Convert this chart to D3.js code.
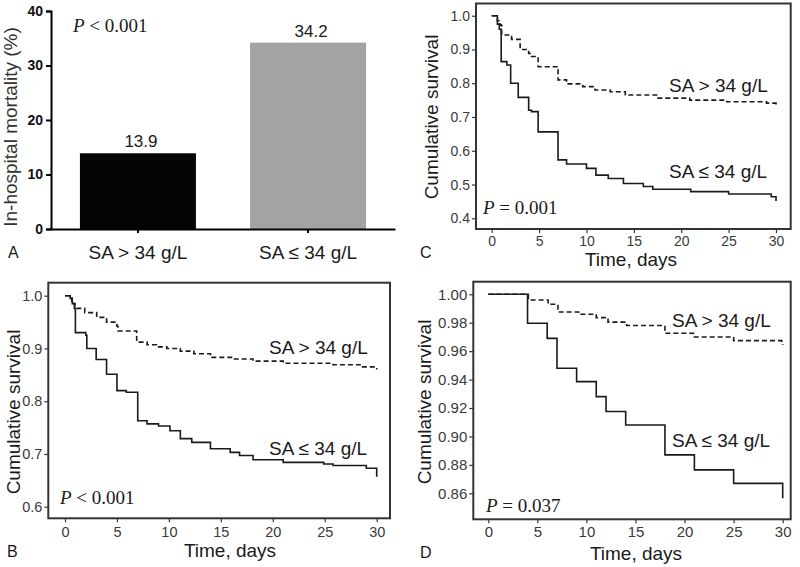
<!DOCTYPE html>
<html>
<head>
<meta charset="utf-8">
<script src="https://cdn.jsdelivr.net/npm/d3@7"></script>
<style>
  body { margin: 0; background: #fff; }
  svg { display: block; font-family: "Liberation Sans", Arial, sans-serif; }
</style>
</head>
<body>
<div id="chart"></div>
<script>
// Panel A: in-hospital mortality by serum albumin group
const groups = ["SA > 34 g/L", "SA ≤ 34 g/L"];
const mortality = [13.9, 34.2];
const mortalityTicks = [0, 10, 20, 30, 40];

// Kaplan-Meier curves (time in days, cumulative survival)
const dayTicks = [0, 5, 10, 15, 20, 25, 30];

// Panel C
const cHighTime = [0, 0.6, 0.9, 1.05, 2.1, 3.0, 3.9, 4.2, 4.9, 7.0, 7.9, 9.6, 10.9, 12.5, 14.1, 17.4, 20.9, 24.8, 29.0, 30];
const cHighSurv = [1.0, 0.985, 0.972, 0.943, 0.93, 0.90, 0.888, 0.879, 0.849, 0.81, 0.798, 0.79, 0.78, 0.775, 0.765, 0.756, 0.75, 0.745, 0.741, 0.733];
const cLowTime = [0, 0.6, 0.8, 1.0, 1.6, 2.0, 2.8, 3.9, 4.2, 4.9, 7.0, 7.9, 10.0, 11.0, 12.3, 13.9, 16.0, 17.0, 21.0, 25.0, 29.5, 30];
const cLowSurv = [1.0, 0.975, 0.96, 0.864, 0.854, 0.80, 0.758, 0.72, 0.716, 0.656, 0.573, 0.561, 0.548, 0.528, 0.518, 0.503, 0.494, 0.486, 0.479, 0.472, 0.464, 0.451];
const cTicks = [0.4, 0.5, 0.6, 0.7, 0.8, 0.9, 1.0];

// Panel B
const bHighTime = [0, 0.5, 0.65, 0.96, 1.9, 3.05, 4.0, 5.0, 5.1, 6.9, 7.9, 8.8, 9.8, 11.1, 12.4, 14.0, 16.2, 18.1, 21.0, 25.8, 28.4, 30];
const bHighSurv = [1.0, 0.995, 0.985, 0.976, 0.968, 0.959, 0.95, 0.942, 0.933, 0.912, 0.907, 0.903, 0.90, 0.895, 0.89, 0.883, 0.88, 0.876, 0.872, 0.869, 0.865, 0.86];
const bLowTime = [0, 0.5, 0.7, 0.9, 1.0, 2.0, 2.1, 3.0, 4.0, 5.0, 5.9, 7.0, 7.9, 9.0, 10.1, 11.1, 12.2, 14.0, 15.9, 16.8, 18.1, 21.0, 24.9, 25.8, 29.0, 30];
const bLowSurv = [1.0, 0.995, 0.985, 0.976, 0.93, 0.925, 0.90, 0.879, 0.851, 0.82, 0.817, 0.763, 0.757, 0.753, 0.744, 0.729, 0.722, 0.71, 0.703, 0.697, 0.689, 0.684, 0.681, 0.678, 0.673, 0.657];
const bTicks = [0.6, 0.7, 0.8, 0.9, 1.0];

// Panel D
const dHighTime = [0, 4.08, 6.1, 7.1, 9.2, 11.0, 12.2, 14.1, 18.0, 20.9, 25.0, 29.9, 30];
const dHighSurv = [1.0, 0.996, 0.993, 0.9876, 0.986, 0.9836, 0.9804, 0.978, 0.9726, 0.970, 0.9674, 0.9654, 0.9645];
const dLowTime = [0, 4, 6, 7, 9, 11, 12, 14, 18, 21, 25, 30];
const dLowSurv = [1.0, 0.9796, 0.969, 0.948, 0.9386, 0.928, 0.9175, 0.908, 0.887, 0.8765, 0.867, 0.8565];
const dTicks = [0.86, 0.88, 0.90, 0.92, 0.94, 0.96, 0.98, 1.00];

const width = 800, height = 567;
const ink = "#1a1a1a";

const svg = d3.select("#chart")
  .append("svg")
  .attr("width", width)
  .attr("height", height);

// P value with italic P in a serif face
function pValue(g, x, y, rest) {
  const t = g.append("text")
    .attr("x", x).attr("y", y)
    .attr("font-family", "'Liberation Serif', 'Times New Roman', serif")
    .attr("font-size", 19)
    .attr("fill", ink);
  t.append("tspan").attr("font-style", "italic").text("P");
  t.append("tspan").text(" " + rest);
}

// ---------- Panel A: bar chart ----------
function drawBars() {
  const g = svg.append("g");
  const x = d3.scaleBand()
    .domain(groups)
    .range([51, 395])
    .paddingInner(0.318)
    .paddingOuter(0.17);
  const y = d3.scaleLinear().domain([0, 40]).range([229, 11]);

  g.selectAll("rect.bar")
    .data(groups)
    .enter()
    .append("rect")
    .attr("class", "bar")
    .attr("x", d => x(d))
    .attr("width", x.bandwidth())
    .attr("y", (d, i) => y(mortality[i]))
    .attr("height", (d, i) => y(0) - y(mortality[i]))
    .attr("fill", (d, i) => i === 0 ? "#050505" : "#a3a3a3");

  g.selectAll("text.val")
    .data(groups)
    .enter()
    .append("text")
    .attr("class", "val")
    .attr("x", d => x(d) + x.bandwidth() / 2 + 3)
    .attr("y", (d, i) => y(mortality[i]) - 6)
    .attr("text-anchor", "middle")
    .attr("font-size", 17)
    .attr("fill", ink)
    .text((d, i) => mortality[i].toFixed(1));

  const yAxis = g.append("g")
    .attr("transform", "translate(51,0)")
    .call(d3.axisLeft(y).tickValues(mortalityTicks).tickSize(5).tickPadding(3));
  yAxis.selectAll("text").attr("font-size", 14).attr("font-weight", "bold").attr("fill", "#111");
  yAxis.selectAll("line, path").attr("stroke", "#000").attr("stroke-width", 2);

  const xAxis = g.append("g")
    .attr("transform", "translate(0,229)")
    .call(d3.axisBottom(x).tickSize(4).tickPadding(13).tickSizeOuter(0));
  xAxis.selectAll("text").attr("font-size", 19).attr("fill", ink);
  xAxis.selectAll("line, path").attr("stroke", "#000").attr("stroke-width", 2);

  g.append("text")
    .attr("transform", "translate(17,127) rotate(-90)")
    .attr("text-anchor", "middle")
    .attr("font-size", 19)
    .attr("fill", "#333")
    .text("In-hospital mortality (%)");

  g.append("text").attr("x", 8).attr("y", 258).attr("font-size", 16).attr("fill", ink).text("A");
  pValue(g, 73, 32, "< 0.001");
}

// ---------- Kaplan-Meier panels ----------
function drawKM(cfg) {
  const g = svg.append("g");
  const x = d3.scaleLinear().domain([0, 30]).range(cfg.xr);
  const y = d3.scaleLinear().domain(cfg.yd).range(cfg.yr);
  const [bx0, by0, bx1, by1] = cfg.box;

  const xAxis = g.append("g")
    .attr("transform", `translate(0,${by1})`)
    .call(d3.axisBottom(x).tickValues(dayTicks).tickSize(4).tickPadding(cfg.xPad));
  xAxis.select(".domain").remove();
  xAxis.selectAll("text").attr("font-size", cfg.tickFont).attr("fill", "#3a3a3a");
  xAxis.selectAll("line").attr("stroke", "#333").attr("stroke-width", 1.2);

  const yAxis = g.append("g")
    .attr("transform", `translate(${bx0},0)`)
    .call(d3.axisLeft(y).tickValues(cfg.yTicks).tickFormat(d3.format(cfg.fmt)).tickSize(4).tickPadding(2));
  yAxis.select(".domain").remove();
  yAxis.selectAll("text").attr("font-size", cfg.tickFont).attr("fill", "#3a3a3a");
  yAxis.selectAll("line").attr("stroke", "#333").attr("stroke-width", 1.2);

  const line = d3.line()
    .x(d => x(d[0]))
    .y(d => y(d[1]))
    .curve(d3.curveStepAfter);

  g.append("path")
    .datum(d3.zip(cfg.highTime, cfg.highSurv))
    .attr("d", line)
    .attr("fill", "none")
    .attr("stroke", ink)
    .attr("stroke-width", 1.6)
    .attr("stroke-dasharray", "5,3");

  g.append("path")
    .datum(d3.zip(cfg.lowTime, cfg.lowSurv))
    .attr("d", line)
    .attr("fill", "none")
    .attr("stroke", ink)
    .attr("stroke-width", 1.6);

  g.append("rect")
    .attr("x", bx0).attr("y", by0)
    .attr("width", bx1 - bx0).attr("height", by1 - by0)
    .attr("fill", "none")
    .attr("stroke", "#333")
    .attr("stroke-width", 2);

  g.append("text").attr("x", cfg.labelX).attr("y", cfg.highY).attr("font-size", 19).attr("fill", ink).text(groups[0]);
  g.append("text").attr("x", cfg.labelX).attr("y", cfg.lowY).attr("font-size", 19).attr("fill", ink).text(groups[1]);

  g.append("text")
    .attr("x", cfg.timeX).attr("y", cfg.timeY)
    .attr("text-anchor", "middle")
    .attr("font-size", 19)
    .attr("fill", ink)
    .text("Time, days");

  g.append("text")
    .attr("transform", `translate(${cfg.survX},${cfg.survY}) rotate(-90)`)
    .attr("text-anchor", "middle")
    .attr("font-size", 19)
    .attr("fill", ink)
    .text("Cumulative survival");

  g.append("text").attr("x", cfg.letter[0]).attr("y", cfg.letter[1]).attr("font-size", 16).attr("fill", ink).text(cfg.name);
  pValue(g, cfg.p[0], cfg.p[1], cfg.pText);
}

drawBars();

drawKM({
  name: "C", box: [476, 3.5, 790.7, 229], xr: [491.7, 776], yd: [0.4, 1.0], yr: [218.3, 15.7],
  yTicks: cTicks, fmt: ".1f", tickFont: 14, xPad: 3,
  highTime: cHighTime, highSurv: cHighSurv, lowTime: cLowTime, lowSurv: cLowSurv,
  labelX: 669, highY: 92, lowY: 178, timeX: 631, timeY: 266, survX: 438, survY: 117,
  letter: [420, 258], p: [483, 214], pText: "= 0.001"
});

drawKM({
  name: "B", box: [48.3, 282.7, 390, 518.3], xr: [65, 376.7], yd: [0.6, 1.0], yr: [506.7, 295.7],
  yTicks: bTicks, fmt: ".1f", tickFont: 14.5, xPad: 4,
  highTime: bHighTime, highSurv: bHighSurv, lowTime: bLowTime, lowSurv: bLowSurv,
  labelX: 269, highY: 354, lowY: 455, timeX: 230, timeY: 557, survX: 20, survY: 412,
  letter: [7, 557], p: [60, 504], pText: "< 0.001"
});

drawKM({
  name: "D", box: [473.3, 281.7, 790.7, 519.3], xr: [488.3, 782.7], yd: [0.86, 1.0], yr: [493.3, 294.3],
  yTicks: dTicks, fmt: ".2f", tickFont: 15, xPad: 3,
  highTime: dHighTime, highSurv: dHighSurv, lowTime: dLowTime, lowSurv: dLowSurv,
  labelX: 672, highY: 327, lowY: 447, timeX: 636, timeY: 560, survX: 431, survY: 402,
  letter: [420, 558], p: [486, 512], pText: "= 0.037"
});
</script>
</body>
</html>
